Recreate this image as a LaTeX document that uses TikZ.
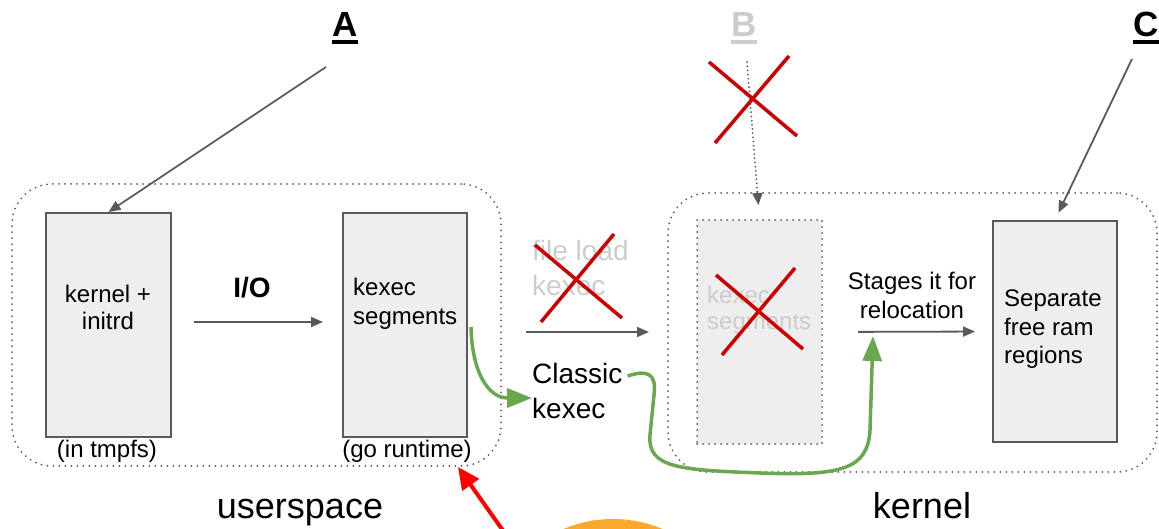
\documentclass[tikz,border=0pt]{standalone}
\usepackage{fontspec}
\setmainfont{Liberation Sans}
\usetikzlibrary{arrows.meta}
\definecolor{linegray}{HTML}{595959}
\definecolor{boxfill}{HTML}{EEEEEE}
\definecolor{fadetext}{HTML}{CCCCCC}
\definecolor{xred}{HTML}{CC0000}
\definecolor{arrred}{HTML}{FF0000}
\definecolor{okgreen}{HTML}{6AA84F}
\definecolor{sunorange}{HTML}{FBA92C}
% bold letter with a thick underline
\newcommand{\ulbold}[1]{\setbox0\hbox{\bfseries #1}\rlap{\rule[-7pt]{\wd0}{3.5pt}}\box0}

\tikzset{
  dots/.style={line width=2pt, line cap=round, dash pattern={on 0pt off 6pt}},
  memblock/.style={draw=linegray, fill=boxfill, line width=2pt, inner sep=0pt,
    minimum width=124pt, minimum height=224pt},
  fadeblock/.style={memblock, dots},
  realm/.style={draw=linegray, dots, rounded corners=40pt, inner sep=0pt},
  lbl/.style={inner sep=0pt, anchor=base, font=\fontsize{24}{28}\selectfont},
  lbll/.style={lbl, anchor=base west},
  biglbl/.style={inner sep=0pt, anchor=base, font=\fontsize{36}{40}\selectfont},
  midlbl/.style={inner sep=0pt, anchor=base west, font=\fontsize{28}{32}\selectfont},
  tag/.style={inner sep=0pt, anchor=base, font=\fontsize{35}{40}\selectfont},
  grayarrow/.style={draw=linegray, line width=1.8pt, -{Triangle[length=12pt,width=10pt]}},
  dotarrow/.style={grayarrow, line width=2pt, line cap=round, dash pattern={on 0pt off 4.2pt}},
  greenarrow/.style={draw=okgreen, line width=3.5pt, -{Triangle[length=25pt,width=19pt]}},
  redarrow/.style={draw=arrred, line width=4pt, -{Triangle[length=22pt,width=20pt]}},
  cross/.style={draw=xred, line width=3.5pt},
}

\begin{document}
\begin{tikzpicture}[x=1pt,y=-1pt]
\useasboundingbox (0,0) rectangle (1159,529);

% orange disc rising from the bottom edge
\begin{scope}
  \clip (0,0) rectangle (1159,529);
  \fill[sunorange] (613,646) circle (127pt);
\end{scope}

% userspace and kernel regions
\node[realm, minimum width=489pt, minimum height=282pt] (ucont) at (256.5,325) {};
\node[realm, minimum width=489pt, minimum height=279pt] (kcont) at (912.5,332.5) {};

% memory blocks
\node[memblock, minimum width=125pt] (kbox) at (108.5,325) {};
\node[memblock] (sbox) at (405,325) {};
\node[fadeblock, minimum width=125pt] (bbox) at (759.5,332) {};
\node[memblock, minimum height=221pt] (rbox) at (1055,331.5) {};

% texts of the userspace side
\node[lbl] (k1) at (108,302) {kernel +};
\node[lbl] (k2) at (108,329) {initrd};
\node[lbl] (k3) at (107,457) {(in tmpfs)};
\node[lbl, font=\fontsize{28}{32}\selectfont\bfseries] (io) at (252,298) {I/O};
\node[lbll] (s1) at (353,296) {kexec};
\node[lbll] (s2) at (353,324) {segments};
\node[lbl] (s3) at (407,457) {(go runtime)};

% load paths
\node[midlbl, text=fadetext] (f1) at (532,261) {file load};
\node[midlbl, text=fadetext] (f2) at (532,295) {kexec};
\node[midlbl] (c1) at (532,383) {Classic};
\node[midlbl] (c2) at (532,418) {kexec};

% kernel side
\node[lbll, text=fadetext] (b1) at (707,303) {kexec};
\node[lbll, text=fadetext] (b2) at (707,330) {segments};
\node[lbl] (r1) at (912,290) {Stages it for};
\node[lbl] (r2) at (912,318) {relocation};
\node[lbll] (e1) at (1004,307) {Separate};
\node[lbll] (e2) at (1004,335) {free ram};
\node[lbll] (e3) at (1004,363) {regions};

\node[biglbl] (uname) at (300,518) {userspace};
\node[biglbl] (kname) at (922,518) {kernel};

% lettered call-outs
\node[tag] (tagA) at (345,37) {\ulbold{A}};
\node[tag, text=fadetext] (tagB) at (744,37) {\ulbold{B}};
\node[tag] (tagC) at (1146,37) {\ulbold{C}};

\coordinate (aStart) at (326,67);
\coordinate (bStart) at (747,62);
\coordinate (cStart) at (1132,59);
\coordinate (fl1) at (526,332);
\coordinate (fl2) at (649,332);
\coordinate (rStart) at (504,532);
\coordinate (rEnd) at (458,467);

\draw[grayarrow] (aStart) -- (kbox.north);
\draw[dotarrow, shorten >=14pt] (bStart) -- (bbox.north);
\draw[grayarrow, shorten >=8pt] (cStart) -- (rbox.north);
\draw[grayarrow, shorten <=22pt, shorten >=19pt] ([yshift=3pt]kbox.east) -- ([yshift=3pt]sbox.west);
\draw[grayarrow] (fl1) -- (fl2);
\draw[grayarrow, shorten <=35pt, shorten >=17pt] (bbox.east) -- (rbox.west);

% crossed-out paths
\draw[cross] (535,245) -- (622,318);
\draw[cross] (614,234) -- (541,322);
\draw[cross] (716,275) -- (803,349);
\draw[cross] (795,268) -- (722,355);
\draw[cross] (709,62) -- (797,136);
\draw[cross] (789,56) -- (715,143);

% classic kexec flow
\draw[greenarrow] ([xshift=3pt,yshift=-2pt]sbox.east) .. controls (472,372) and (488,398) .. (c2.west |- 0,398);
\draw[greenarrow] ([xshift=5pt,yshift=-3pt]c1.east) .. controls (646,370) and (657,372) .. (654,395)
  -- (650,435) .. controls (647,468) and (680,470) .. (760,473)
  .. controls (840,476) and (868,470) .. (870,430) -- (873,336);

\draw[redarrow] (rStart) -- (rEnd);
\end{tikzpicture}
\end{document}
